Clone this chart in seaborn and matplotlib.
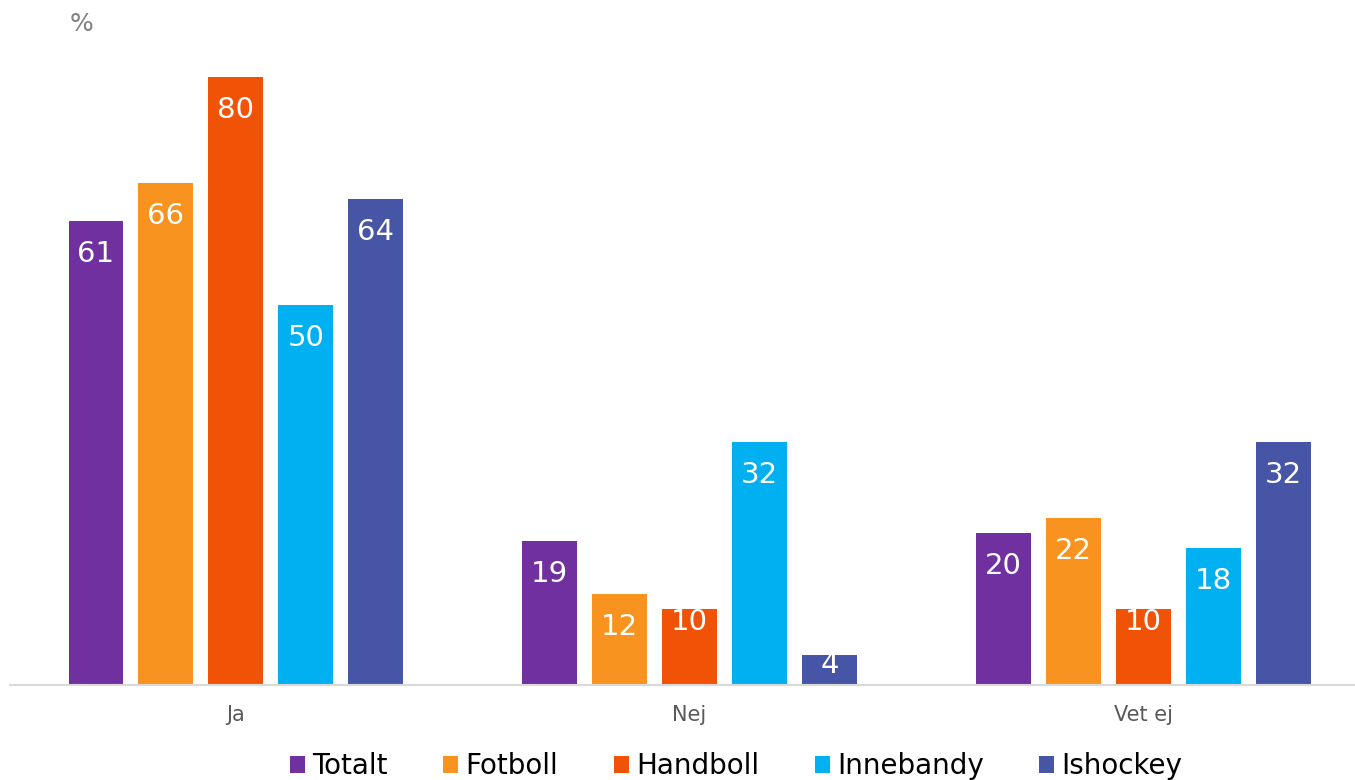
import numpy as np
import pandas as pd
import matplotlib.pyplot as plt
import seaborn as sns

# data
categories = ['Ja', 'Nej', 'Vet ej']
series = ['Totalt', 'Fotboll', 'Handboll', 'Innebandy', 'Ishockey']
totalt = [61, 19, 20]
fotboll = [66, 12, 22]
handboll = [80, 10, 10]
innebandy = [50, 32, 18]
ishockey = [64, 4, 32]

colors = ['#7030A0', '#F7931E', '#F05206', '#00B0F0', '#4655A5']

df = pd.DataFrame({'Svar': categories, 'Totalt': totalt, 'Fotboll': fotboll,
                   'Handboll': handboll, 'Innebandy': innebandy, 'Ishockey': ishockey})
df_melt = pd.melt(df, id_vars=['Svar'], value_vars=series,
                  var_name='Grupp', value_name='Procent')

sns.set_theme(style='white')
plt.rcParams['font.family'] = ['DejaVu Sans']

fig = plt.figure(figsize=(13.55, 7.8), dpi=100)
ax = fig.add_axes([10 / 1355, 95 / 780, 1345 / 1355, 646 / 780])

sns.barplot(data=df_melt, x='Svar', y='Procent', hue='Grupp',
            order=categories, hue_order=series, palette=colors,
            width=0.771, gap=0.214, linewidth=0, saturation=1,
            legend=True, ax=ax)

ax.set_xlim(-0.498, 2.467)
ax.set_ylim(0, 85)
ax.set_xlabel('')
ax.set_ylabel('')
ax.set_yticks([])
ax.tick_params(axis='x', length=0, pad=14.5, labelsize=15, labelcolor='#595959')
for s in ['top', 'right', 'left']:
    ax.spines[s].set_visible(False)
ax.spines['bottom'].set_color('#D9D9D9')
ax.spines['bottom'].set_linewidth(1.5)

# value labels inside the bar tops
for cont in ax.containers:
    for bar in cont:
        v = bar.get_height()
        off = 23.8 if v > 11 else (9.4 if v > 5 else 7.2)
        ax.annotate(f'{v:.0f}', (bar.get_x() + bar.get_width() / 2, v),
                    xytext=(0, -off), textcoords='offset points',
                    ha='center', va='center', color='white', fontsize=21)

fig.text(70 / 1355, 1 - 24 / 780, '%', fontsize=18, color='#808080',
         ha='left', va='center')

handles, labels = ax.get_legend_handles_labels()
ax.legend_.remove()
leg = fig.legend(handles, labels, loc='center', bbox_to_anchor=(736 / 1355, 1 - 766 / 780),
                 ncol=5, frameon=False, fontsize=20, handlelength=0.55, handleheight=0.55,
                 handletextpad=0.25, columnspacing=2.0, borderaxespad=0)
for t in leg.get_texts():
    t.set_color('black')

fig.savefig('out.png', dpi=100)
